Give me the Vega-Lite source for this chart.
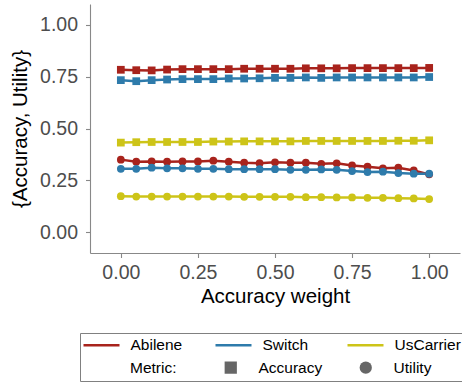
{
  "$schema": "https://vega.github.io/schema/vega-lite/v6.json",
  "autosize": {"type": "none"},
  "width": 370,
  "height": 249,
  "padding": {"left": 90, "top": 4, "right": 2, "bottom": 129},
  "background": "white",
  "config": {
    "view": {"stroke": null},
    "font": "Liberation Sans",
    "axis": {
      "grid": false,
      "domainColor": "#888888",
      "domainWidth": 1.1,
      "tickColor": "#888888",
      "tickWidth": 1.1,
      "tickSize": 4.5,
      "labelColor": "#4d4d4d",
      "labelFontSize": 19.5,
      "labelFont": "Liberation Sans",
      "titleFont": "Liberation Sans",
      "titleFontSize": 20.5,
      "titleFontWeight": "normal",
      "titleColor": "#000000"
    }
  },
  "data": {
    "values": [
      {"w": 0.00, "net": "Abilene", "Accuracy": 0.783, "Utility": 0.350},
      {"w": 0.05, "net": "Abilene", "Accuracy": 0.781, "Utility": 0.340},
      {"w": 0.10, "net": "Abilene", "Accuracy": 0.780, "Utility": 0.341},
      {"w": 0.15, "net": "Abilene", "Accuracy": 0.784, "Utility": 0.340},
      {"w": 0.20, "net": "Abilene", "Accuracy": 0.786, "Utility": 0.341},
      {"w": 0.25, "net": "Abilene", "Accuracy": 0.786, "Utility": 0.341},
      {"w": 0.30, "net": "Abilene", "Accuracy": 0.786, "Utility": 0.345},
      {"w": 0.35, "net": "Abilene", "Accuracy": 0.786, "Utility": 0.340},
      {"w": 0.40, "net": "Abilene", "Accuracy": 0.788, "Utility": 0.335},
      {"w": 0.45, "net": "Abilene", "Accuracy": 0.788, "Utility": 0.333},
      {"w": 0.50, "net": "Abilene", "Accuracy": 0.788, "Utility": 0.337},
      {"w": 0.55, "net": "Abilene", "Accuracy": 0.788, "Utility": 0.335},
      {"w": 0.60, "net": "Abilene", "Accuracy": 0.790, "Utility": 0.335},
      {"w": 0.65, "net": "Abilene", "Accuracy": 0.790, "Utility": 0.330},
      {"w": 0.70, "net": "Abilene", "Accuracy": 0.790, "Utility": 0.332},
      {"w": 0.75, "net": "Abilene", "Accuracy": 0.791, "Utility": 0.322},
      {"w": 0.80, "net": "Abilene", "Accuracy": 0.791, "Utility": 0.316},
      {"w": 0.85, "net": "Abilene", "Accuracy": 0.791, "Utility": 0.308},
      {"w": 0.90, "net": "Abilene", "Accuracy": 0.791, "Utility": 0.311},
      {"w": 0.95, "net": "Abilene", "Accuracy": 0.791, "Utility": 0.298},
      {"w": 1.00, "net": "Abilene", "Accuracy": 0.792, "Utility": 0.279},
      {"w": 0.00, "net": "Switch", "Accuracy": 0.733, "Utility": 0.306},
      {"w": 0.05, "net": "Switch", "Accuracy": 0.728, "Utility": 0.306},
      {"w": 0.10, "net": "Switch", "Accuracy": 0.733, "Utility": 0.311},
      {"w": 0.15, "net": "Switch", "Accuracy": 0.736, "Utility": 0.308},
      {"w": 0.20, "net": "Switch", "Accuracy": 0.738, "Utility": 0.308},
      {"w": 0.25, "net": "Switch", "Accuracy": 0.738, "Utility": 0.306},
      {"w": 0.30, "net": "Switch", "Accuracy": 0.738, "Utility": 0.306},
      {"w": 0.35, "net": "Switch", "Accuracy": 0.741, "Utility": 0.304},
      {"w": 0.40, "net": "Switch", "Accuracy": 0.741, "Utility": 0.304},
      {"w": 0.45, "net": "Switch", "Accuracy": 0.742, "Utility": 0.304},
      {"w": 0.50, "net": "Switch", "Accuracy": 0.744, "Utility": 0.304},
      {"w": 0.55, "net": "Switch", "Accuracy": 0.744, "Utility": 0.301},
      {"w": 0.60, "net": "Switch", "Accuracy": 0.746, "Utility": 0.301},
      {"w": 0.65, "net": "Switch", "Accuracy": 0.744, "Utility": 0.303},
      {"w": 0.70, "net": "Switch", "Accuracy": 0.746, "Utility": 0.301},
      {"w": 0.75, "net": "Switch", "Accuracy": 0.746, "Utility": 0.295},
      {"w": 0.80, "net": "Switch", "Accuracy": 0.746, "Utility": 0.290},
      {"w": 0.85, "net": "Switch", "Accuracy": 0.746, "Utility": 0.292},
      {"w": 0.90, "net": "Switch", "Accuracy": 0.746, "Utility": 0.285},
      {"w": 0.95, "net": "Switch", "Accuracy": 0.746, "Utility": 0.282},
      {"w": 1.00, "net": "Switch", "Accuracy": 0.748, "Utility": 0.282},
      {"w": 0.00, "net": "UsCarrier", "Accuracy": 0.432, "Utility": 0.174},
      {"w": 0.05, "net": "UsCarrier", "Accuracy": 0.434, "Utility": 0.172},
      {"w": 0.10, "net": "UsCarrier", "Accuracy": 0.435, "Utility": 0.172},
      {"w": 0.15, "net": "UsCarrier", "Accuracy": 0.435, "Utility": 0.172},
      {"w": 0.20, "net": "UsCarrier", "Accuracy": 0.435, "Utility": 0.172},
      {"w": 0.25, "net": "UsCarrier", "Accuracy": 0.435, "Utility": 0.172},
      {"w": 0.30, "net": "UsCarrier", "Accuracy": 0.437, "Utility": 0.172},
      {"w": 0.35, "net": "UsCarrier", "Accuracy": 0.437, "Utility": 0.172},
      {"w": 0.40, "net": "UsCarrier", "Accuracy": 0.438, "Utility": 0.171},
      {"w": 0.45, "net": "UsCarrier", "Accuracy": 0.438, "Utility": 0.171},
      {"w": 0.50, "net": "UsCarrier", "Accuracy": 0.438, "Utility": 0.171},
      {"w": 0.55, "net": "UsCarrier", "Accuracy": 0.438, "Utility": 0.171},
      {"w": 0.60, "net": "UsCarrier", "Accuracy": 0.440, "Utility": 0.169},
      {"w": 0.65, "net": "UsCarrier", "Accuracy": 0.440, "Utility": 0.169},
      {"w": 0.70, "net": "UsCarrier", "Accuracy": 0.440, "Utility": 0.168},
      {"w": 0.75, "net": "UsCarrier", "Accuracy": 0.440, "Utility": 0.168},
      {"w": 0.80, "net": "UsCarrier", "Accuracy": 0.440, "Utility": 0.166},
      {"w": 0.85, "net": "UsCarrier", "Accuracy": 0.440, "Utility": 0.166},
      {"w": 0.90, "net": "UsCarrier", "Accuracy": 0.441, "Utility": 0.164},
      {"w": 0.95, "net": "UsCarrier", "Accuracy": 0.441, "Utility": 0.163},
      {"w": 1.00, "net": "UsCarrier", "Accuracy": 0.443, "Utility": 0.160}
    ]
  },
  "transform": [{"fold": ["Accuracy", "Utility"], "as": ["metric", "value"]}],
  "encoding": {
    "x": {
      "field": "w", "type": "quantitative", "title": "Accuracy weight",
      "scale": {"domain": [-0.1, 1.1], "nice": false, "zero": false},
      "axis": {"values": [0, 0.25, 0.5, 0.75, 1], "format": ".2f", "labelPadding": 5.5, "titlePadding": 5}
    },
    "y": {
      "field": "value", "type": "quantitative", "title": "{Accuracy, Utility}",
      "scale": {"domain": [-0.1, 1.1], "nice": false, "zero": false},
      "axis": {"values": [0, 0.25, 0.5, 0.75, 1], "format": ".2f", "labelPadding": 8, "titlePadding": 9}
    },
    "color": {
      "field": "net", "type": "nominal",
      "scale": {"domain": ["Abilene", "Switch", "UsCarrier"], "range": ["#a8231c", "#2e7bab", "#cdc418"]},
      "legend": {
        "orient": "none", "legendX": -10, "legendY": 329,
        "direction": "horizontal", "columns": 3, "gridAlign": "all", "columnPadding": 13,
        "title": " ", "titleOrient": "bottom", "titleFontSize": 15.5, "titlePadding": 9,
        "padding": 2, "strokeColor": "#808080", "fillColor": "white",
        "symbolType": "M-1,0H3.235", "symbolSize": 289, "symbolStrokeWidth": 2.5,
        "labelFontSize": 15.5, "labelColor": "#000000", "labelOffset": 28.5, "labelFont": "Liberation Sans",
        "encode": {"symbols": {"update": {"stroke": {"scale": "color", "field": "value"}, "fill": {"value": "transparent"}, "opacity": {"value": 1}}}}
      }
    },
    "shape": {
      "field": "metric", "type": "nominal",
      "scale": {"domain": ["Accuracy", "Utility"], "range": ["square", "circle"]},
      "legend": {
        "orient": "none", "legendX": 40, "legendY": 355.5,
        "direction": "horizontal", "columns": 2, "gridAlign": "all", "columnPadding": 35,
        "title": "Metric:", "titleOrient": "left", "titlePadding": 46, "titleFontSize": 15.5,
        "titleFontWeight": "normal", "titleColor": "#000000", "titleFont": "Liberation Sans",
        "titleBaseline": "middle",
        "padding": 0, "symbolSize": 150, "symbolStrokeWidth": 0, "symbolFillColor": "#666666",
        "labelFontSize": 15.5, "labelColor": "#000000", "labelOffset": 20, "labelFont": "Liberation Sans",
        "encode": {"symbols": {"update": {"fill": {"value": "#666666"}, "stroke": {"value": "transparent"}, "opacity": {"value": 1}}}}
      }
    }
  },
  "layer": [
    {
      "mark": {"type": "line", "strokeWidth": 2.5},
      "encoding": {"detail": {"field": "metric"}, "shape": null}
    },
    {
      "mark": {"type": "point", "filled": true, "size": 60, "opacity": 1}
    }
  ]
}
